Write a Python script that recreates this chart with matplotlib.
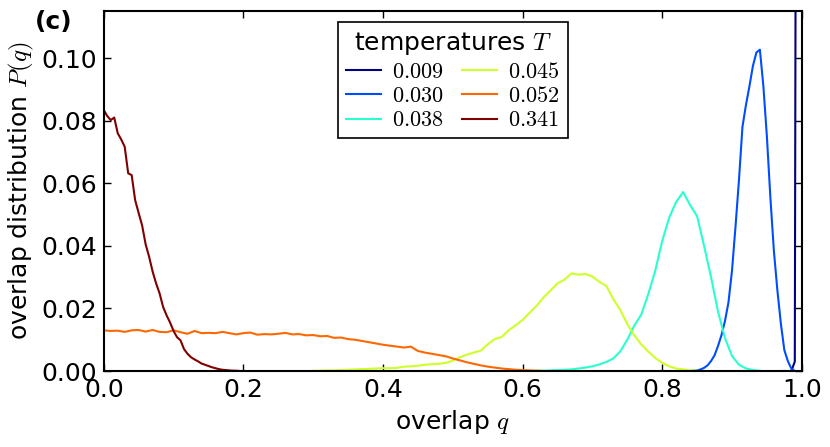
import numpy as np
import matplotlib
matplotlib.use('Agg')
import matplotlib.pyplot as plt

plt.rcParams['mathtext.fontset'] = 'cm'
plt.rcParams['font.family'] = 'DejaVu Sans'

temps = ['0.009', '0.030', '0.038', '0.045', '0.052', '0.341']

# T = 0.341 (dark red), q on 0.005 steps from 0
q_341 = np.round(np.arange(0, 0.2001, 0.005), 3)
p_341 = [0.0834, 0.0815, 0.0802, 0.0810, 0.0760, 0.0740, 0.0717, 0.0632, 0.0626,
         0.0546, 0.0505, 0.0465, 0.0405, 0.0365, 0.0318, 0.0280, 0.0248, 0.0205,
         0.0178, 0.0155, 0.0128, 0.0108, 0.0098, 0.0070, 0.0055, 0.0044, 0.0037,
         0.0031, 0.0024, 0.0020, 0.0016, 0.0012, 0.0009, 0.0006, 0.0004, 0.0003,
         0.0002, 0.0001, 0.0001, 0.0, 0.0]

# T = 0.052 (orange), q on 0.01 steps from 0
q_052 = np.round(np.arange(0, 0.6301, 0.01), 3)
p_052 = [0.0130, 0.0128, 0.0129, 0.0125, 0.0130, 0.0131, 0.0126, 0.0131, 0.0125,
         0.0124, 0.0130, 0.0124, 0.0119, 0.0128, 0.0121, 0.0122, 0.0121, 0.0125,
         0.0121, 0.0117, 0.0121, 0.0123, 0.0116, 0.0118, 0.0117, 0.0119, 0.0122,
         0.0117, 0.0118, 0.0114, 0.0115, 0.0111, 0.0112, 0.0106, 0.0107, 0.0102,
         0.0100, 0.0096, 0.0092, 0.0088, 0.0084, 0.0081, 0.0078, 0.0075, 0.0078,
         0.0064, 0.0059, 0.0055, 0.0051, 0.0047, 0.0040, 0.0034, 0.0028, 0.0023,
         0.0018, 0.0014, 0.0011, 0.0008, 0.0006, 0.0004, 0.0003, 0.0002, 0.0001,
         0.0]

# T = 0.045 (yellow-green), q on 0.01 steps from 0.30
q_045 = np.round(np.arange(0.30, 0.8501, 0.01), 3)
p_045 = [0.0001, 0.0001, 0.0002, 0.0002, 0.0003, 0.0004, 0.0005, 0.0006, 0.0007,
         0.0008, 0.0009, 0.0009, 0.0010, 0.0014, 0.0015, 0.0017, 0.0020, 0.0022,
         0.0023, 0.0026, 0.0033, 0.0044, 0.0052, 0.0059, 0.0065, 0.0085, 0.0102,
         0.0109, 0.0130, 0.0146, 0.0163, 0.0186, 0.0208, 0.0235, 0.0257, 0.0280,
         0.0292, 0.0312, 0.0308, 0.0310, 0.0302, 0.0285, 0.0272, 0.0230, 0.0195,
         0.0150, 0.0114, 0.0085, 0.0062, 0.0042, 0.0026, 0.0015, 0.0008, 0.0005,
         0.0002, 0.0001]

# T = 0.038 (cyan), q on 0.01 steps from 0.62
q_038 = np.round(np.arange(0.62, 0.9401, 0.01), 3)
p_038 = [0.0001, 0.0001, 0.0002, 0.0003, 0.0004, 0.0005, 0.0008, 0.0011, 0.0015,
         0.0021, 0.0029, 0.0040, 0.0063, 0.0100, 0.0145, 0.0180, 0.0245, 0.0320,
         0.0415, 0.0490, 0.0540, 0.0572, 0.0530, 0.0495, 0.0400, 0.0300, 0.0190,
         0.0105, 0.0048, 0.0020, 0.0008, 0.0003, 0.0001]

# T = 0.030 (blue), q on 0.005 steps from 0.84
q_030 = np.round(np.arange(0.84, 0.9901, 0.005), 3)
p_030 = [0.0, 0.0001, 0.0002, 0.0005, 0.0010, 0.0018, 0.0032, 0.0050, 0.0080,
         0.0115, 0.0160, 0.0220, 0.0320, 0.0460, 0.0610, 0.0780, 0.0850, 0.0910,
         0.0975, 0.1018, 0.1027, 0.0910, 0.0750, 0.0555, 0.0385, 0.0259, 0.0152,
         0.0067, 0.0032, 0.0008, 0.0]

# T = 0.009 (navy), sharp peak at q = 1
q_009 = [0.97, 0.975, 0.98, 0.985, 0.99, 0.995, 1.0]
p_009 = [0.0, 0.0, 0.0, 0.0, 0.003, 0.55, 0.40]

qs = [q_009, q_030, q_038, q_045, q_052, q_341]
ps = [p_009, p_030, p_038, p_045, p_052, p_341]
colors = plt.cm.jet(np.linspace(0, 1, len(temps)))

fig = plt.figure(figsize=(8.3, 4.47), dpi=100)
ax = fig.add_axes([0.125, 0.170, 0.841, 0.805])

for q, p, t, c in zip(qs, ps, temps, colors):
    ax.plot(q, p, color=c, lw=1.5, label='$' + t + '$')

ax.set_xlim(0, 1.0)
ax.set_ylim(0, 0.115)
ax.set_xticks([0.0, 0.2, 0.4, 0.6, 0.8, 1.0])
ax.set_yticks([0.00, 0.02, 0.04, 0.06, 0.08, 0.10])
ax.set_xticklabels(['0.0', '0.2', '0.4', '0.6', '0.8', '1.0'])
ax.set_yticklabels(['0.00', '0.02', '0.04', '0.06', '0.08', '0.10'])
ax.tick_params(direction='in', top=True, right=True, length=5, width=1,
               labelsize=18, pad=5)
for s in ax.spines.values():
    s.set_linewidth(1.5)

ax.set_xlabel('overlap $q$', fontsize=18, labelpad=4)
ax.set_ylabel('overlap distribution $P(q)$', fontsize=18, labelpad=4)

leg = ax.legend(loc='upper center', ncol=2, fontsize=16, title='temperatures $T$',
                title_fontsize=18, fancybox=False, framealpha=1, edgecolor='black',
                handlelength=1.6, handletextpad=0.5, columnspacing=0.8,
                labelspacing=0.2, borderpad=0.35, borderaxespad=0.5)
leg.get_frame().set_linewidth(1.2)

fig.text(0.042, 0.95, '(c)', fontsize=18, weight='bold', va='center')

fig.savefig('out.png', dpi=100, facecolor='white')
